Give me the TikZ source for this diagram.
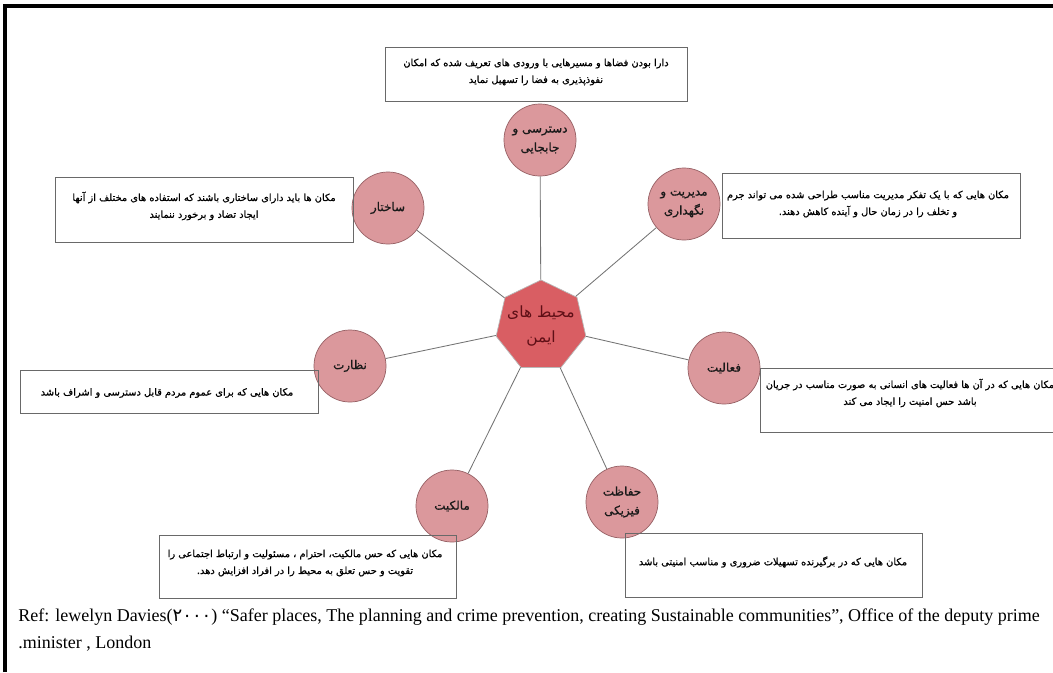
\documentclass[tikz,border=0pt]{standalone}
\usepackage{fontspec}
\setmainfont{Liberation Serif}
\newfontfamily\farsi[Script=Arabic]{DejaVu Sans}
\newfontfamily\farsibold[Script=Arabic, FakeBold=0.8]{DejaVu Sans}
\TeXXeTstate=1
\usetikzlibrary{shapes.geometric}
\usetikzlibrary{positioning}
\definecolor{hubred}{RGB}{217,94,99}
\definecolor{hubtext}{RGB}{95,15,22}
\definecolor{pinkfill}{RGB}{219,152,156}
\definecolor{pinkline}{RGB}{150,96,100}
\definecolor{boxline}{RGB}{105,105,105}
\definecolor{linkgray}{RGB}{115,115,115}
\newcommand{\rl}[1]{\beginR #1\endR}
\tikzset{
  hub/.style={regular polygon, regular polygon sides=7, inner sep=0,
    minimum size=2.3cm, fill=hubred, draw=gray!55, line width=0.5pt},
  hublabel/.style={text=hubtext, align=center, inner sep=0,
    font=\farsi\fontsize{11}{17.5}\selectfont},
  topic/.style={circle, inner sep=0, minimum size=1.8cm, fill=pinkfill,
    draw=pinkline, line width=0.5pt, align=center, text=black!90,
    font=\farsibold\fontsize{8.5}{13.5}\selectfont},
  descbox/.style={draw=boxline, line width=0.6pt, inner sep=0},
  desc/.style={align=center, inner sep=0, font=\farsibold\fontsize{7}{12}\selectfont},
  link/.style={draw=linkgray, line width=0.6pt},
  ref/.style={anchor=west, inner sep=0, font=\fontsize{12.8}{15}\selectfont}
}
\begin{document}
\begin{tikzpicture}[x=0.025cm, y=-0.025cm]
\useasboundingbox (0,0) rectangle (1053,672);
\clip (0,0) rectangle (1053,672);
\draw[line width=2.2pt] (5,672) -- (5,6) -- (1053,6);

% hub and topics
\node[hub] (hub) at (541,326) {};
\node[hublabel] (hubtext) at (hub.center) {\rl{محیط های}\\\rl{ایمن}};
\node[topic] (access) at (540,140) {\rl{دسترسی و}\\\rl{جابجایی}};
\node[topic] (manage) at (684,204) {\rl{مدیریت و}\\\rl{نگهداری}};
\node[topic] (struct) at (388,208) {\rl{ساختار}};
\node[topic] (activ) at (724,368) {\rl{فعالیت}};
\node[topic] (watch) at (350,366) {\rl{نظارت}};
\node[topic] (owner) at (452,506) {\rl{مالکیت}};
\node[topic] (guard) at (622,502) {\rl{حفاظت}\\\rl{فیزیکی}};

\foreach \t in {access,manage,struct,activ,watch,owner,guard}
  \draw[link] (hub) -- (\t);

% descriptions
\node[descbox, minimum width=7.55cm, minimum height=1.35cm] (accessbox) at (536,74) {};
\node[desc] (accesstext) at (536,72) {\rl{دارا بودن فضاها و مسیرهایی با ورودی های تعریف شده که امکان}\\\rl{نفوذپذیری به فضا را تسهیل نماید}};

\node[descbox, minimum width=7.45cm, minimum height=1.625cm] (managebox) at (871,205.5) {};
\node[desc] (managetext) at (868,204) {\rl{مکان هایی که با یک تفکر مدیریت مناسب طراحی شده می تواند جرم}\\\rl{و تخلف را در زمان حال و آینده کاهش دهند.}};

\node[descbox, minimum width=7.45cm, minimum height=1.625cm] (structbox) at (204,209.5) {};
\node[desc] (structtext) at (204,206) {\rl{مکان ها باید دارای ساختاری باشند که  استفاده های مختلف از آنها}\\\rl{ایجاد تضاد و برخورد ننمایند}};

\node[descbox, minimum width=7.875cm, minimum height=1.6cm] (activbox) at (917.5,400) {};
\node[desc] (activtext) at (910,393) {\rl{مکان هایی که در آن ها فعالیت های انسانی به صورت مناسب در جریان}\\\rl{باشد حس امنیت را ایجاد می کند}};

\node[descbox, minimum width=7.45cm, minimum height=1.075cm] (watchbox) at (169,391.5) {};
\node[desc] (watchtext) at (167,393) {\rl{مکان هایی که برای عموم مردم قابل دسترسی و اشراف باشد}};

\node[descbox, minimum width=7.425cm, minimum height=1.575cm] (ownerbox) at (307.5,566.5) {};
\node[desc] (ownertext) at (305,563) {\rl{مکان هایی که حس مالکیت، احترام ، مسئولیت و ارتباط اجتماعی را}\\\rl{تقویت و حس تعلق به محیط را در افراد افزایش دهد.}};

\node[descbox, minimum width=7.425cm, minimum height=1.6cm] (guardbox) at (773.5,565) {};
\node[desc] (guardtext) at (773,562) {\rl{مکان هایی که در برگیرنده تسهیلات ضروری و مناسب امنیتی باشد}};

% reference
\node[ref] (reftop) at (18,617) {Ref: lewelyn Davies({\farsi ۲۰۰۰}) “Safer places, The planning and crime prevention, creating Sustainable communities”, Office of the deputy prime};
\node[ref] (refbot) at (18,644) {.minister , London};
\end{tikzpicture}
\end{document}
